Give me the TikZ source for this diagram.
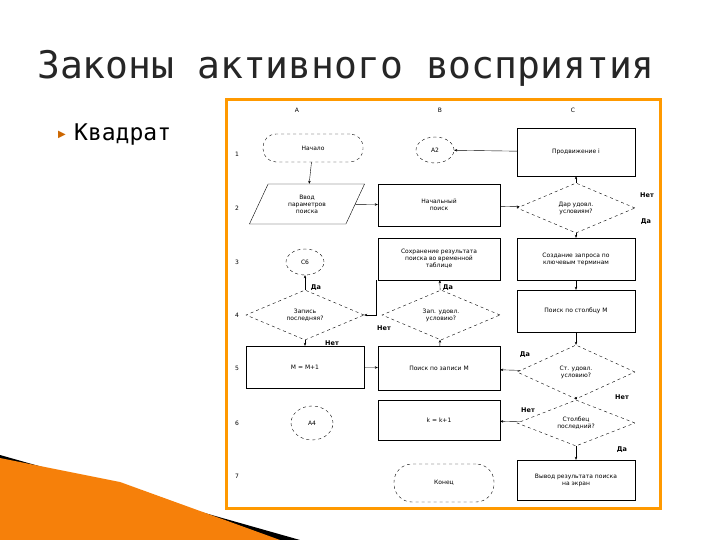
\documentclass[tikz,border=0pt]{standalone}
\usepackage{fontspec}
\setmainfont{DejaVu Sans}
\newfontfamily\monof{DejaVu Sans Mono}
\usetikzlibrary{shapes.geometric,arrows.meta}
\begin{document}
\begin{tikzpicture}[x=1pt,y=-1pt,
  every node/.style={font=\fontsize{6}{7}\selectfont,align=center,inner sep=1pt},
  box/.style={draw,thin,minimum width=#1,minimum height=42},
  dia/.style={draw,thin,dashed,diamond,aspect=2.4,minimum width=118,minimum height=50,inner sep=0},
  circ/.style={draw,thin,dashed,ellipse,minimum width=38,minimum height=26},
  term/.style={draw,thin,dashed,rounded corners=13,minimum width=100,minimum height=28},
  lbl/.style={font=\fontsize{6.5}{7}\selectfont\bfseries},
  arr/.style={-{Stealth[length=3pt,width=2.5pt]},thin}]
\useasboundingbox (0,0) rectangle (720,540);
\fill[white] (0,0) rectangle (720,540);
% decorative corner
\fill[black] (0,455) -- (300,540) -- (0,540) -- cycle;
\fill[orange!85!brown] (0,458) -- (120,482) -- (280,540) -- (0,540) -- cycle;
\node[font=\monof\fontsize{38}{40}\selectfont,text=gray!30!black,anchor=west] (title) at (36,68) {Законы активного восприятия};
\node[font=\fontsize{10}{10}\selectfont,text=orange!80!black] (bul) at (62,135) {▶};
\node[font=\monof\fontsize{23}{24}\selectfont,anchor=west] (kv) at (73,135) {Квадрат};
\fill[white] (226,100) rectangle (660,508);
\draw[orange!80!yellow,line width=3] (226,100) rectangle (660,508);
% labels
\node (cA) at (297,110) {A}; \node (cB) at (440,110) {B}; \node (cC) at (573,110) {C};
\foreach \n/\y in {1/154,2/208,3/262,4/315,5/368,6/423,7/476} \node (r\n) at (237,\y) {\n};
% shapes
\node[term] (start) at (313,148) {Начало};
\node[circ] (a2) at (435,150) {А2};
\node[box=118,minimum height=48] (prod) at (576,152) {Продвижение i};
\node[draw,thin,trapezium,trapezium left angle=65,trapezium right angle=115,minimum width=90,minimum height=40] (vvod) at (307,204) {Ввод\\параметров\\поиска};
\node[box=122] (nach) at (439,205) {Начальный\\поиск};
\node[dia] (c2) at (576,208) {Дар удовл.\\условиям?};
\node[circ] (c6c) at (305,262) {С6};
\node[box=122] (sohr) at (439,259) {Сохранение результата\\поиска во временной\\таблице};
\node[box=118] (sozd) at (576,259) {Создание запроса по\\ключевым терминам};
\node[dia] (a4) at (305,315) {Запись\\последняя?};
\node[dia] (b4) at (441,315) {Зап. удовл.\\условию?};
\node[box=118] (stol) at (576,311) {Поиск по столбцу М};
\node[box=118] (mm) at (305,367) {M = M+1};
\node[box=122,minimum height=44] (zap) at (439,368) {Поиск по записи М};
\node[dia,minimum height=54] (c5) at (576,372) {Ст. удовл.\\условию?};
\node[circ,minimum width=42,minimum height=34] (a4c) at (312,423) {А4};
\node[box=122,minimum height=40] (kk) at (439,420) {k = k+1};
\node[dia,minimum height=46] (c6) at (576,423) {Столбец\\последний?};
\node[term,minimum height=38,rounded corners=18] (end) at (444,483) {Конец};
\node[box=118,minimum height=40] (vyv) at (576,480) {Вывод результата поиска\\на экран};
% connectors
\draw[arr] (start) -- (vvod);
\draw[arr] (vvod) -- (nach);
\draw[arr] (nach) -- (c2);
\draw[arr] (c2) -- (prod);
\draw[arr] (prod) -- (a2);
\draw[arr] (c2) -- (sozd);
\draw[arr] (sozd) -- (stol);
\draw[arr] (stol) -- (c5);
\draw[arr] (c5) -- (zap);
\draw[arr] (c5) -- (c6);
\draw[arr] (c6) -- (vyv);
\draw[arr] (c6) -- (kk);
\draw[arr] (zap) -- (b4);
\draw[arr] (b4) -- (sohr);
\coordinate (j1) at (376,280);
\draw[arr] (j1) |- (a4.east);
\draw[arr] (a4) -- (c6c);
\draw[arr] (a4) -- (mm);
\draw[arr] (mm) -- (zap);
% branch labels
\node[lbl] (l1) at (647,195) {Нет}; \node[lbl] (l2) at (646,222) {Да};
\node[lbl] (l3) at (316,288) {Да}; \node[lbl] (l4) at (448,288) {Да};
\node[lbl] (l5) at (384,328) {Нет}; \node[lbl] (l6) at (332,343) {Нет};
\node[lbl] (l7) at (525,355) {Да}; \node[lbl] (l8) at (622,397) {Нет};
\node[lbl] (l9) at (528,410) {Нет}; \node[lbl] (l10) at (622,450) {Да};
\end{tikzpicture}
\end{document}
